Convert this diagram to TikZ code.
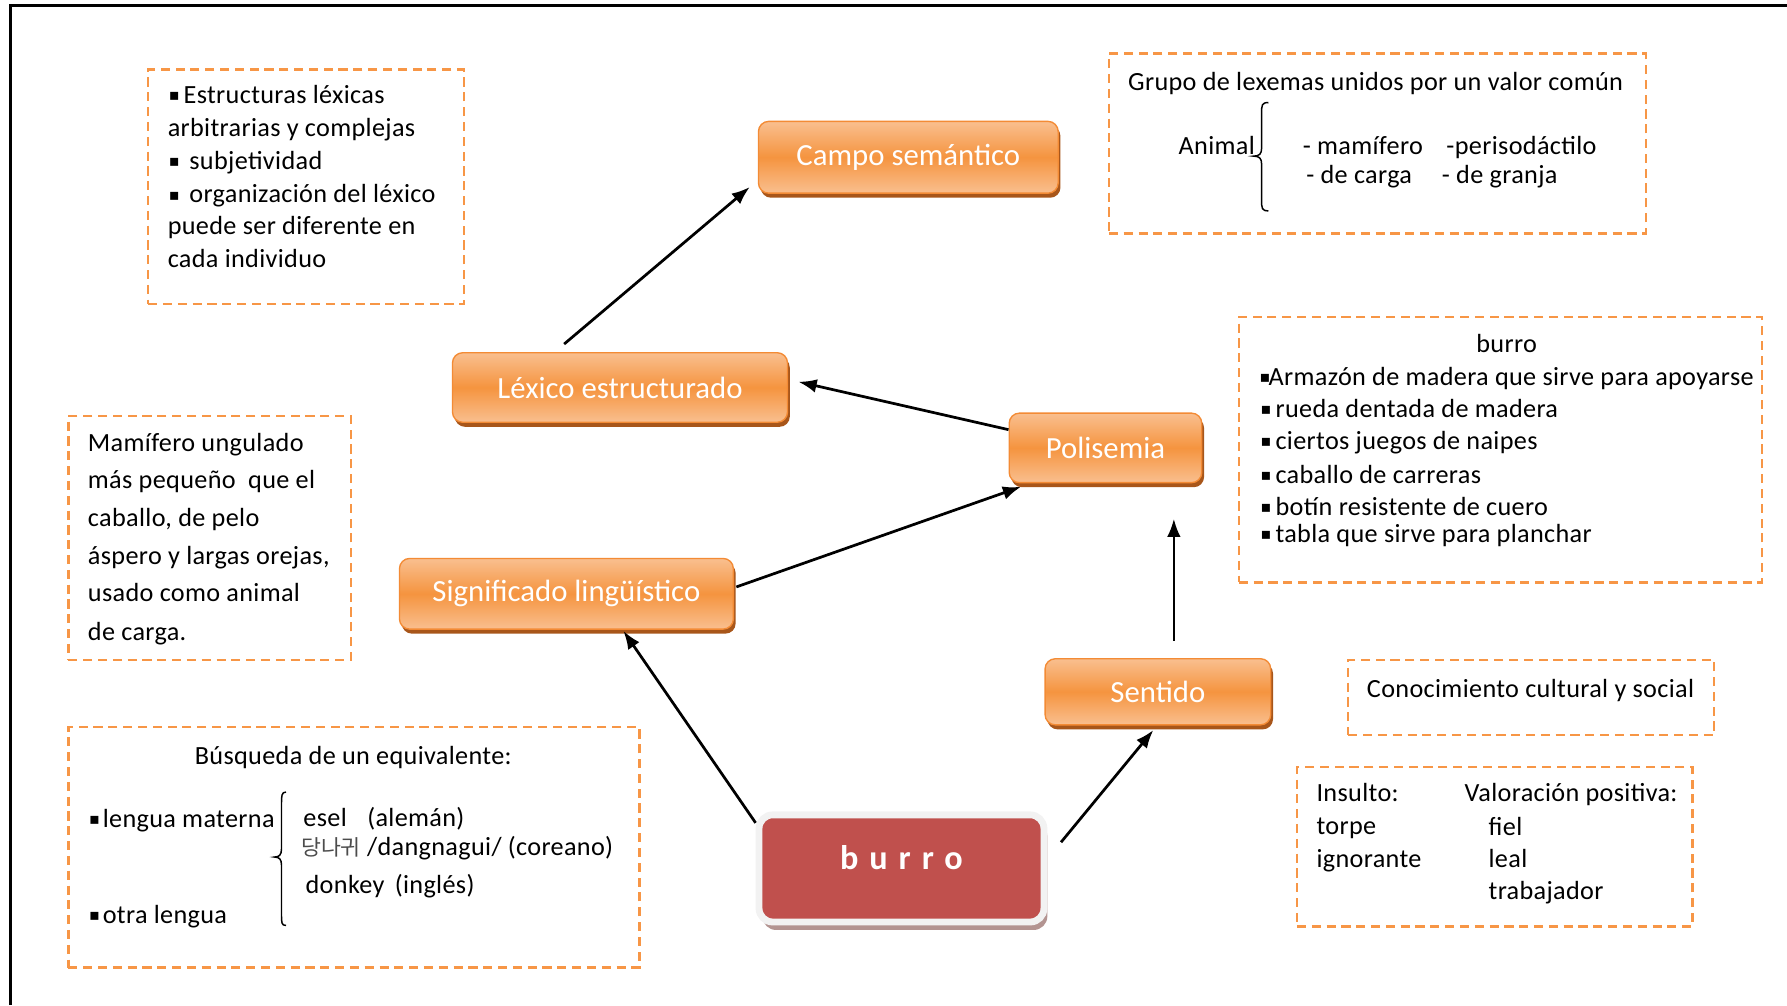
\documentclass[tikz,border=0pt]{standalone}
\usepackage{fontspec}
\setmainfont{Carlito}
\newfontfamily\kofont{Noto Sans CJK KR}
\newfontfamily\symfont{DejaVu Sans}
\usetikzlibrary{shadows,calc,arrows.meta}

\definecolor{dashor}{HTML}{F79646}
\definecolor{orlight}{HTML}{F9BF8F}
\definecolor{ormid}{HTML}{F5943F}
\definecolor{orborder}{HTML}{F38B35}
\definecolor{orshadow}{HTML}{A8561A}
\definecolor{burrored}{HTML}{C0504D}
\definecolor{burroedge}{HTML}{F2F2F2}
\definecolor{burroshadow}{HTML}{B39491}

% small square bullet followed by a fixed gap
\newcommand\sqb[1]{\makebox[#1][l]{{\symfont\fontsize{14}{14}\selectfont\raisebox{2.5pt}{▪}}}}

\begin{document}
\begin{tikzpicture}[x=1pt,y=-1pt,
  note/.style={draw=dashor, line width=2pt, dash pattern=on 8pt off 5pt,
    inner sep=0pt, anchor=north west},
  txt/.style={font=\fontsize{23}{27}\selectfont\addfontfeatures{LetterSpace=1.3},
    inner sep=0pt, anchor=base west},
  ctxt/.style={txt, anchor=base},
  concept/.style={rounded corners=9pt, draw=orborder, line width=1.2pt,
    top color=orlight, bottom color=orlight, middle color=ormid,
    text=white, font=\fontsize{27}{30}\selectfont, inner sep=0pt,
    drop shadow={shadow xshift=2pt, shadow yshift=-4pt, fill=orshadow, opacity=1}},
  core/.style={rounded corners=12pt, draw=burroedge, line width=6pt,
    fill=burrored, text=white, inner sep=0pt,
    font=\fontsize{30}{30}\selectfont\bfseries\addfontfeatures{LetterSpace=32},
    text height=14pt, text depth=12pt,
    drop shadow={shadow xshift=3pt, shadow yshift=-7pt, fill=burroshadow, opacity=1}},
  arr/.style={-{Latex[length=16pt,width=12pt]}, line width=2.4pt},
  bracepath/.style={line width=1.3pt}
]
\useasboundingbox (0,0) rectangle (1568,882);

% page frame (top and left edges)
\draw[line width=2.5pt] (9,882) -- (9,5) -- (1568,5);

% ---------- concept nodes ----------
\node[concept, minimum width=263pt, minimum height=63pt] (campo) at (797,138) {Campo semántico};
\node[concept, minimum width=294pt, minimum height=61pt] (lex) at (544,340) {Léxico estructurado};
\node[concept, minimum width=169pt, minimum height=61pt] (poli) at (970,393) {Polisemia};
\node[concept, minimum width=293pt, minimum height=62pt] (signif) at (497,521) {Significado lingüístico};
\node[concept, minimum width=198pt, minimum height=58pt] (sentido) at (1016,607) {Sentido};
\node[core, minimum width=250pt, minimum height=94pt] (burro) at (791,762) {burro};

% ---------- connectors ----------
\draw[arr] ($(lex.north)+(-49,-7)$) -- ($(campo.south west)+(-7,-6)$);
\draw[arr] ($(poli.west)+(0,-16)$) -- ($(lex.east)+(9,-5)$);
\draw[arr] ($(signif.east)+(2,-6)$) -- ($(poli.south west)+(11,3)$);
\draw[arr] ($(burro.north west)+(0,10)$) -- ($(signif.south)+(50,1)$);
\draw[arr] ($(burro.north east)+(12,27)$) -- ($(sentido.south)+(-4,4)$);
\draw[arr] ($(sentido.north)+(14,-15)$) -- ($(poli.south)+(60,31)$);

% ---------- box: lexical structures ----------
\node[note, minimum width=277pt, minimum height=206pt] (nlex) at (129,60) {};
\node[txt] (nlex1) at (148,91)  {\sqb{13pt}Estructuras léxicas};
\node[txt] (nlex2) at (147,120) {arbitrarias y complejas};
\node[txt] (nlex3) at (148,149) {\sqb{18pt}subjetividad};
\node[txt] (nlex4) at (148,178) {\sqb{18pt}organización del léxico};
\node[txt] (nlex5) at (147,206) {puede ser diferente en};
\node[txt] (nlex6) at (147,235) {cada individuo};

% ---------- box: semantic field ----------
\node[note, minimum width=471pt, minimum height=158pt] (ncampo) at (972,46) {};
\node[ctxt] (ncampo1) at (1207,79) {Grupo de lexemas unidos por un valor común};
\node[txt] (ncampo2) at (1034,136) {Animal};
\draw[bracepath] (1113,90) .. controls (1107,90) and (1107,92) .. (1107,100)
  -- (1107,130) .. controls (1107,135) and (1105,137) .. (1100,137)
  .. controls (1105,137) and (1107,139) .. (1107,144)
  -- (1107,175) .. controls (1107,183) and (1107,185) .. (1113,185);
\node[txt] (ncampo3) at (1143,136) {- mamífero};
\node[txt] (ncampo4) at (1269,136) {-perisodáctilo};
\node[txt] (ncampo5) at (1146,161) {- de carga};
\node[txt] (ncampo6) at (1265,161) {- de granja};

% ---------- box: meanings of the word ----------
\node[note, minimum width=459pt, minimum height=233pt] (npoli) at (1086,277) {};
\node[ctxt] (npoli0) at (1322,309) {burro};
\node[txt] (npoli1) at (1105,338) {\sqb{8pt}Armazón de madera que sirve para apoyarse};
\node[txt] (npoli2) at (1106,366) {\sqb{13pt}rueda dentada de madera};
\node[txt] (npoli3) at (1106,394) {\sqb{13pt}ciertos juegos de naipes};
\node[txt] (npoli4) at (1106,424) {\sqb{13pt}caballo de carreras};
\node[txt] (npoli5) at (1106,452) {\sqb{13pt}botín resistente de cuero};
\node[txt] (npoli6) at (1106,476) {\sqb{13pt}tabla que sirve para planchar};

% ---------- box: definition ----------
\node[note, minimum width=248pt, minimum height=214pt] (ndef) at (59,364) {};
\node[txt] (ndef1) at (77,396) {Mamífero ungulado};
\node[txt] (ndef2) at (77,429) {más pequeño\ \ que el};
\node[txt] (ndef3) at (77,462) {caballo, de pelo};
\node[txt] (ndef4) at (77,495) {áspero y largas orejas,};
\node[txt] (ndef5) at (77,528) {usado como animal};
\node[txt] (ndef6) at (77,562) {de carga.};

% ---------- box: equivalents ----------
\node[note, minimum width=501pt, minimum height=211pt] (nequiv) at (59,637) {};
\node[ctxt] (nequiv0) at (310,671) {Búsqueda de un equivalente:};
\node[txt] (nequiv1) at (78,726) {\sqb{12pt}lengua materna};
\node[txt] (nequiv2) at (78,810) {\sqb{12pt}otra lengua};
\draw[bracepath] (251,695) .. controls (247,695) and (247,698) .. (247,706)
  -- (247,745) .. controls (247,750) and (245,752) .. (241,752)
  .. controls (245,752) and (247,754) .. (247,759)
  -- (247,802) .. controls (247,810) and (247,812) .. (251,812);
\node[txt] (nequiv3) at (266,725) {esel\hspace{18pt}(alemán)};
\node[txt] (nequiv4) at (264,751) {{\kofont\fontsize{19}{19}\selectfont\color{black!70}당나귀} /dangnagui/ (coreano)};
\node[txt] (nequiv5) at (268,784) {donkey\hspace{9pt}(inglés)};

% ---------- box: cultural knowledge ----------
\node[note, minimum width=321pt, minimum height=66pt] (ncult) at (1182,578) {};
\node[ctxt] (ncult1) at (1343,612) {Conocimiento cultural y social};

% ---------- box: connotations ----------
\node[note, minimum width=347pt, minimum height=140pt] (nval) at (1137,672) {};
\node[txt] (nval1) at (1155,703) {Insulto:};
\node[txt] (nval2) at (1155,732) {torpe};
\node[txt] (nval3) at (1155,761) {ignorante};
\node[txt] (nval4) at (1285,703) {Valoración positiva:};
\node[txt] (nval5) at (1306,733) {fiel};
\node[txt] (nval6) at (1306,761) {leal};
\node[txt] (nval7) at (1306,789) {trabajador};
\end{tikzpicture}
\end{document}
